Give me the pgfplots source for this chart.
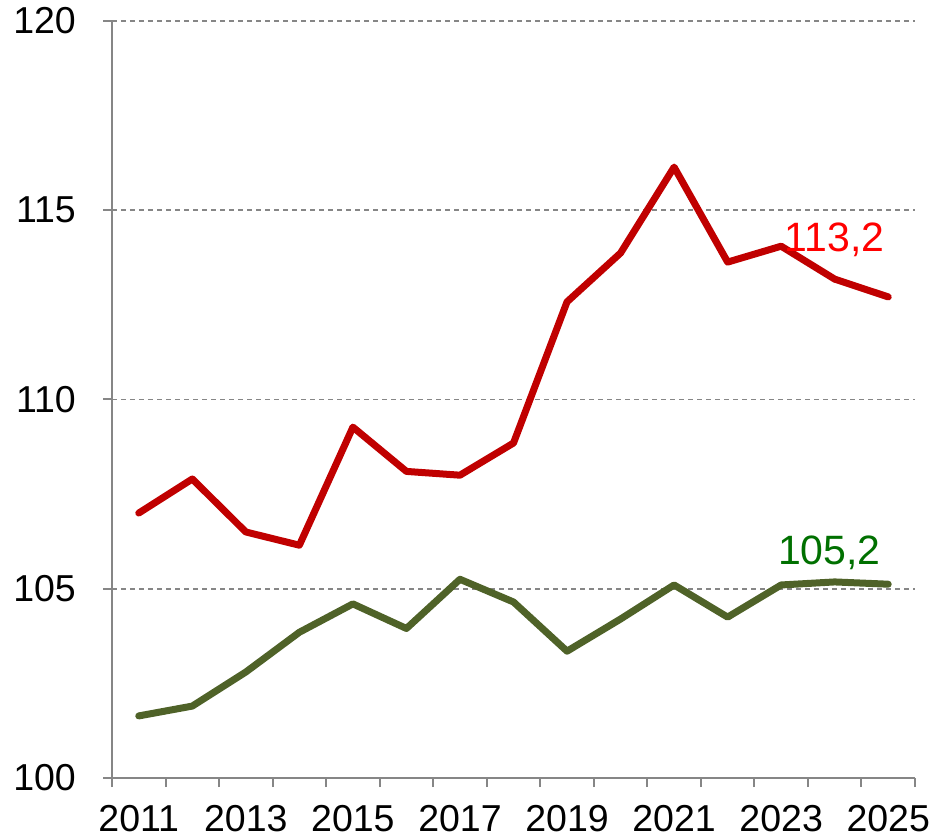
\documentclass[border=0pt]{standalone}
\usepackage{pgfplots}
\pgfplotsset{compat=1.18}
\usepackage{fontspec}
\setmainfont{Liberation Sans}
\definecolor{redline}{RGB}{192,0,0}
\definecolor{greenline}{RGB}{79,98,40}
\definecolor{greenlabel}{RGB}{0,112,0}
\definecolor{axgray}{RGB}{134,134,134}
\begin{document}
\begin{tikzpicture}
\begin{axis}[
  scale only axis,
  width=803pt, height=757pt,
  xmin=2010.5, xmax=2025.5,
  ymin=100, ymax=120,
  axis x line*=bottom, axis y line*=left,
  axis line style={-, draw=axgray, line width=2pt},
  ytick={100,105,...,120},
  xtick={2010.5,2011.5,...,2025.5},
  xticklabels={},
  extra x ticks={2011,2013,...,2025},
  extra x tick labels={2011,2013,2015,2017,2019,2021,2023,2025},
  extra x tick style={major tick length=0pt, grid=none},
  tick align=outside,
  major tick length=9pt,
  tick style={draw=axgray, line width=2pt},
  ymajorgrids,
  major grid style={draw=axgray, line width=1.7pt, dash pattern=on 5pt off 4pt},
  /pgf/number format/assume math mode=true,
  every tick label/.append style={font=\fontsize{37.5}{42}\selectfont, text=black, inner sep=0pt},
  xticklabel style={yshift=-27pt},
  yticklabel style={xshift=-27pt},
  clip=false,
]
\addplot[greenline, line width=7pt, line cap=round, line join=round] coordinates {
(2011,101.64) (2012,101.9) (2013,102.8) (2014,103.85) (2015,104.6)
(2016,103.95) (2017,105.25) (2018,104.65) (2019,103.35) (2020,104.2)
(2021,105.1) (2022,104.25) (2023,105.1) (2024,105.18) (2025,105.12)
};
\addplot[redline, line width=7pt, line cap=round, line join=round] coordinates {
(2011,107.0) (2012,107.9) (2013,106.5) (2014,106.15) (2015,109.27)
(2016,108.1) (2017,108.0) (2018,108.85) (2019,112.58) (2020,113.87)
(2021,116.14) (2022,113.63) (2023,114.05) (2024,113.18) (2025,112.71)
};
\node[anchor=base, text=red, font=\fontsize{41}{46}\selectfont] at (axis cs:2024,113.9) {113,2};
\node[anchor=base, text=greenlabel, font=\fontsize{41}{46}\selectfont] at (axis cs:2023.9,105.63) {105,2};
\end{axis}
\path ([xshift=-112pt,yshift=-62pt]current axis.south west) rectangle ([xshift=35pt,yshift=21pt]current axis.north east);
\end{tikzpicture}
\end{document}
